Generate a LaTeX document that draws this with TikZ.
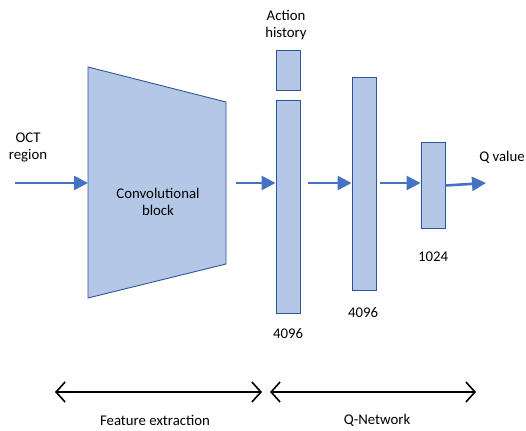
\documentclass[tikz,border=0pt]{standalone}
\usepackage{fontspec}
\setmainfont{Carlito}
\usetikzlibrary{arrows.meta}
\definecolor{flow}{HTML}{4472C4}
\definecolor{layerfill}{HTML}{B4C7E7}
\definecolor{layerline}{HTML}{2F5597}
\begin{document}
\begin{tikzpicture}[x=1pt,y=-1pt,
  font=\fontsize{14.8}{17}\selectfont,
  layer/.style={draw=layerline,fill=layerfill,line width=0.9pt},
  flowarrow/.style={draw=flow,line width=2.6pt,-{Triangle[length=14pt,width=14pt]}},
  span/.style={draw=black,line width=1.6pt,{Straight Barb[length=9pt,width=20pt,line width=1.6pt]}-{Straight Barb[length=9pt,width=20pt,line width=1.6pt]}},
  lbl/.style={align=center,inner sep=0pt}]
\useasboundingbox (0,0) rectangle (526,430);

% convolutional block (trapezoid)
\draw[layer] (88,67) -- (226,102) -- (226,264) -- (88,298) -- cycle;
\node[lbl] (conv) at (158,202) {Convolutional\\block};
\coordinate (convL) at (88,183);
\coordinate (convR) at (236,183);

% fully connected layers
\node[layer,minimum width=24pt,minimum height=213pt,inner sep=0pt] (fc1) at (288,206.5) {};
\node[layer,minimum width=24pt,minimum height=40pt,inner sep=0pt] (act) at (288,70) {};
\node[layer,minimum width=24pt,minimum height=213pt,inner sep=0pt] (fc2) at (364,183.5) {};
\node[layer,minimum width=24pt,minimum height=86pt,inner sep=0pt] (fc3) at (433,185) {};

% labels
\node[lbl] (oct) at (28,147) {OCT\\region};
\node[lbl] (hist) at (286,25) {Action\\history};
\node[lbl] (n1) at (288,334) {4096};
\node[lbl] (n2) at (363,313) {4096};
\node[lbl] (n3) at (433,257) {1024};
\node[lbl] (q) at (502,157) {Q value};

% data flow
\coordinate (in) at (15,183);
\coordinate (out) at (486,183);
\draw[flowarrow] (in) -- (convL);
\draw[flowarrow] (convR) -- (fc1.west |- convR);
\draw[flowarrow] (fc1.east |- convR) ++(8,0) coordinate (a2) (a2) -- (fc2.west |- convR);
\draw[flowarrow] (fc2.east |- convR) ++(4,0) coordinate (a3) (a3) -- (fc3.west |- convR);
\draw[flowarrow] (fc3.east |- 0,185.5) coordinate (a4) (a4) -- (out);

% stage spans
\coordinate (s1) at (55,392);
\coordinate (s2) at (262,392);
\coordinate (s3) at (270,392);
\coordinate (s4) at (476,392);
\draw[span] (s1) -- (s2);
\draw[span] (s3) -- (s4);
\node[lbl] (fe) at (155,420.5) {Feature extraction};
\node[lbl] (qn) at (377,420.5) {Q-Network};
\end{tikzpicture}
\end{document}
